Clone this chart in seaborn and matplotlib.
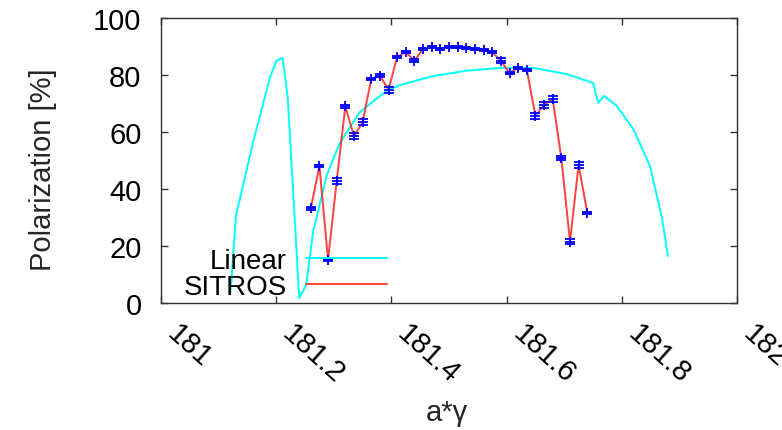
import matplotlib
matplotlib.use("Agg")
import matplotlib.pyplot as plt
import matplotlib.transforms as mtransforms
import seaborn as sns
import pandas as pd

# Linear model curve
linear_x = [181.121, 181.130, 181.160, 181.189, 181.200, 181.211, 181.220, 181.240,
            181.252, 181.264, 181.288, 181.310, 181.345, 181.392, 181.415, 181.472,
            181.530, 181.589, 181.646, 181.705, 181.750, 181.759, 181.769, 181.791,
            181.820, 181.849, 181.870, 181.880]
linear_y = [4.3, 30.6, 56.5, 79.0, 85.0, 86.0, 72.0, 1.7,
            6.3, 25.0, 45.0, 56.0, 67.0, 74.5, 76.5, 79.6,
            81.5, 82.5, 82.5, 80.3, 77.2, 70.2, 72.7, 69.2,
            61.0, 48.0, 29.5, 16.5]

# SITROS tracking results
sitros_x = [181.260, 181.275, 181.290, 181.305, 181.320, 181.335, 181.350, 181.365,
            181.380, 181.395, 181.410, 181.425, 181.440, 181.455, 181.470, 181.485,
            181.500, 181.515, 181.530, 181.545, 181.560, 181.575, 181.590, 181.605,
            181.620, 181.635, 181.650, 181.665, 181.680, 181.695, 181.710, 181.725,
            181.740]
sitros_y = [33.2, 48.0, 15.1, 42.9, 69.0, 58.5, 63.4, 78.6,
            79.8, 74.8, 86.4, 88.0, 85.0, 89.2, 89.9, 89.1,
            89.7, 89.7, 89.5, 89.1, 88.8, 88.0, 85.0, 80.7,
            82.5, 81.8, 65.7, 69.5, 71.6, 50.8, 21.5, 48.5,
            31.6]
sitros_err = [0.4, 0.4, 0.4, 1.0, 0.5, 1.0, 1.0, 0.4,
              0.4, 1.0, 0.4, 0.4, 0.5, 0.4, 0.4, 0.4,
              0.4, 0.4, 0.4, 0.4, 0.4, 0.4, 0.8, 0.4,
              0.4, 0.4, 1.0, 1.0, 1.0, 0.8, 0.8, 1.0,
              0.4]

x_ticks = [181, 181.2, 181.4, 181.6, 181.8, 182]
x_tick_labels = ["181", "181.2", "181.4", "181.6", "181.8", "182"]
y_ticks = [0, 20, 40, 60, 80, 100]

sns.set_style("ticks")
plt.rcParams["font.family"] = ["Liberation Sans", "DejaVu Sans"]

fig = plt.figure(figsize=(7.82, 4.31), dpi=100)
ax = fig.add_axes([0.2059, 0.2947, 0.7366, 0.6612])

lin_df = pd.DataFrame({"x": linear_x, "y": linear_y})
sit_df = pd.DataFrame({"x": sitros_x, "y": sitros_y})

sns.lineplot(data=lin_df, x="x", y="y", ax=ax, color="#00ffff", lw=1.4,
             estimator=None, sort=False, label="Linear", zorder=2)
sns.lineplot(data=sit_df, x="x", y="y", ax=ax, color="#ff2020", lw=1.4,
             estimator=None, sort=False, label="SITROS", zorder=3, alpha=0.85)
ax.errorbar(sitros_x, sitros_y, yerr=sitros_err, fmt="+", color="#0000ff",
            ms=7, mew=1.3, elinewidth=1.3, capsize=3.5, capthick=1.3, zorder=4)

ax.set_xlim(181, 182)
ax.set_ylim(0, 100)
ax.set_xticks(x_ticks)
ax.set_xticklabels(x_tick_labels, rotation=-42, ha="left", va="top",
                   rotation_mode="anchor")
ax.set_yticks(y_ticks)

ax.tick_params(axis="both", direction="in", length=5, width=1, colors="#333333",
               labelcolor="black", labelsize=21, top=True, right=True)
ax.tick_params(axis="x", pad=11)
ax.tick_params(axis="y", pad=14)
for s in ax.spines.values():
    s.set_visible(True)
    s.set_linewidth(1.0)
    s.set_color("#333333")

# shift the slanted tick labels to the right of their ticks
shift = mtransforms.ScaledTranslation(14 / 72, 0, fig.dpi_scale_trans)
for lab in ax.get_xticklabels():
    lab.set_transform(lab.get_transform() + shift)

ax.set_xlabel("a*γ", fontsize=21)
ax.set_ylabel("Polarization [%]", fontsize=21)
ax.xaxis.set_label_coords(0.497, -0.335)
ax.yaxis.set_label_coords(-0.181, 0.47)

ax.legend(loc="lower right", bbox_to_anchor=(0.392, 0.01), frameon=False,
          fontsize=20, markerfirst=False, handlelength=2.9, handletextpad=0.7,
          labelspacing=0.0, borderpad=0, borderaxespad=0, labelcolor="black")

fig.savefig("out.png", dpi=100)
